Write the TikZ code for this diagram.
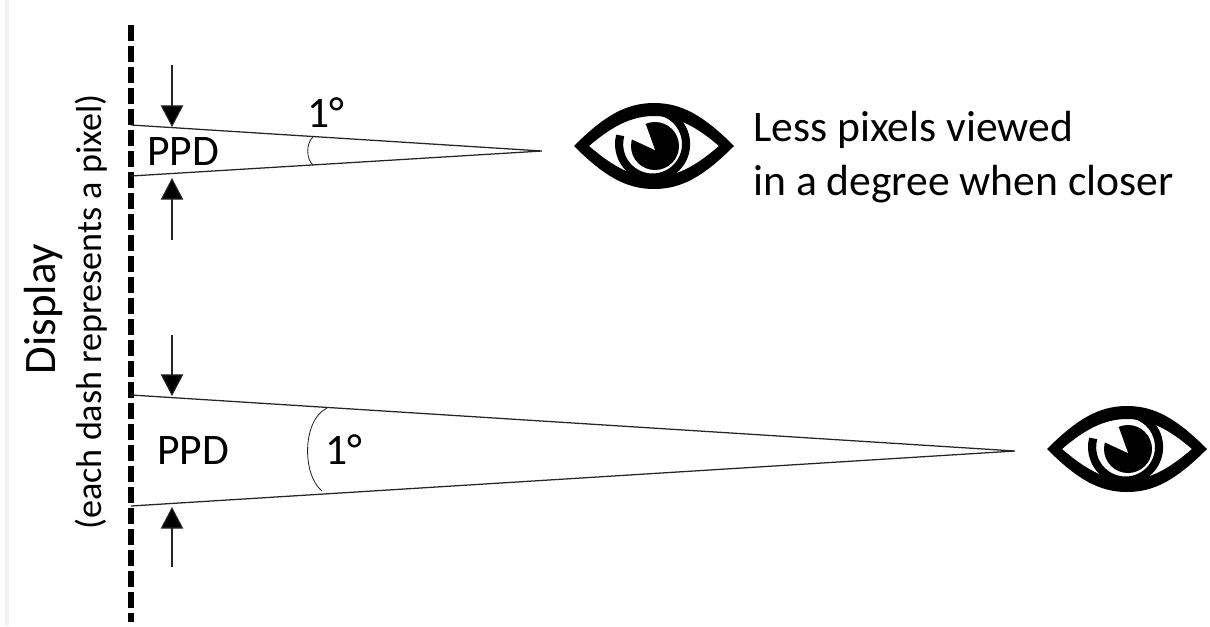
\documentclass[tikz,border=0pt]{standalone}
\usepackage{fontspec}
\setmainfont{Carlito}
\usepackage{xcolor}
\usetikzlibrary{arrows.meta,calc}
\definecolor{ppdInk}{HTML}{000000}
\definecolor{ppdLine}{HTML}{262626}
\definecolor{ppdStripe}{HTML}{F2F2F2}
\newcommand{\degText}{1°}
\newcommand{\ppdText}{PPD}

\begin{document}
\begin{tikzpicture}[
  x=0.025cm, y=-0.025cm,
  txt/.style={font=\fontsize{31}{37}\selectfont, text=ppdInk, inner sep=0pt},
  txtside/.style={txt, rotate=90, font=\fontsize{25.7}{30}\selectfont},
  ray/.style={draw=ppdLine, line width=0.9pt},
  anglemark/.style={draw=ppdLine, line width=0.6pt},
  ptr/.style={-{Triangle[length=5.4mm,width=5.6mm,fill=ppdInk]}, draw=ppdLine, line width=0.8pt},
  display/.style={draw=ppdInk, line width=3.9pt, dash pattern=on 0.4cm off 0.125cm},
  eye/.pic={
    \fill[ppdInk, even odd rule, line join=round]
      (-80,0) .. controls (-50,-30) and (-28,-43) .. (0,-43)
              .. controls (28,-43) and (50,-30) .. (80,0)
              .. controls (50,30) and (28,43) .. (0,43)
              .. controls (-28,43) and (-50,30) .. (-80,0) -- cycle
      (-65,0) .. controls (-44,-18) and (-24,-30) .. (0,-30)
              .. controls (24,-30) and (44,-18) .. (65,0)
              .. controls (44,18) and (24,31) .. (0,31)
              .. controls (-24,31) and (-44,18) .. (-65,0) -- cycle;
    \draw[ppdInk, line width=5.8pt] (-14,-33) arc[start angle=-112, end angle=195, radius=33.5];
    \fill[ppdInk] (1,0) circle[radius=24];
    \fill[white] (1,4) -- (-25,-8) -- (-30,-14) -- (-13,-28) -- (-8,-21) -- cycle;
  }
]
\useasboundingbox (0,0) rectangle (1210,626);
\fill[ppdStripe] (5,0) rectangle (9,626);

% ---- display line ----------------------------------------------------------
\coordinate (dispTop) at (131,25);
\coordinate (dispEnd) at (131,622);
\draw[display] (dispTop) -- (dispEnd);
\node[txtside, font=\fontsize{32}{37}\selectfont] (dispName) at (44,309) {Display};
\node[txtside] (dispNote) at (91,312) {(each dash represents a pixel)};

% ---- near view ---------------------------------------------------------------
\coordinate (nearUp) at (131,125);
\coordinate (nearLo) at (131,176);
\coordinate (nearTip) at (542,151);
\draw[ray] (nearUp) -- (nearTip) -- (nearLo);
\coordinate (nearArcA) at (313,137);
\coordinate (nearArcB) at (313,165);
\draw[anglemark] (nearArcA) .. controls (306,143) and (306,159) .. (nearArcB);
\coordinate (nearInA) at (172,65);
\coordinate (nearAtA) at (172,127);
\coordinate (nearInB) at (172,240);
\coordinate (nearAtB) at (172,178);
\draw[ptr] (nearInA) -- (nearAtA);
\draw[ptr] (nearInB) -- (nearAtB);
\node[txt] (nearPpd) at (183,152) {\ppdText};
\node[txt] (nearDeg) at (326,113) {\degText};
\pic at (654,146) {eye};
\node[txt, anchor=base west] (nearNoteA) at (753,141) {Less pixels viewed};
\node[txt, anchor=base west] (nearNoteB) at (753,195) {in a degree when closer};

% ---- far view ----------------------------------------------------------------
\coordinate (farUp) at (131,395);
\coordinate (farLo) at (131,506);
\coordinate (farTip) at (1015,451);
\draw[ray] (farUp) -- (farTip) -- (farLo);
\coordinate (farArcA) at (327,408);
\coordinate (farArcB) at (322,491);
\draw[anglemark] (farArcA) .. controls (302,420) and (302,475) .. (farArcB);
\coordinate (farInA) at (172,335);
\coordinate (farAtA) at (172,396);
\coordinate (farInB) at (172,567);
\coordinate (farAtB) at (172,507);
\draw[ptr] (farInA) -- (farAtA);
\draw[ptr] (farInB) -- (farAtB);
\node[txt] (farPpd) at (193,451) {\ppdText};
\node[txt] (farDeg) at (344,450) {\degText};
\pic at (1127,449) {eye};

\end{tikzpicture}
\end{document}
